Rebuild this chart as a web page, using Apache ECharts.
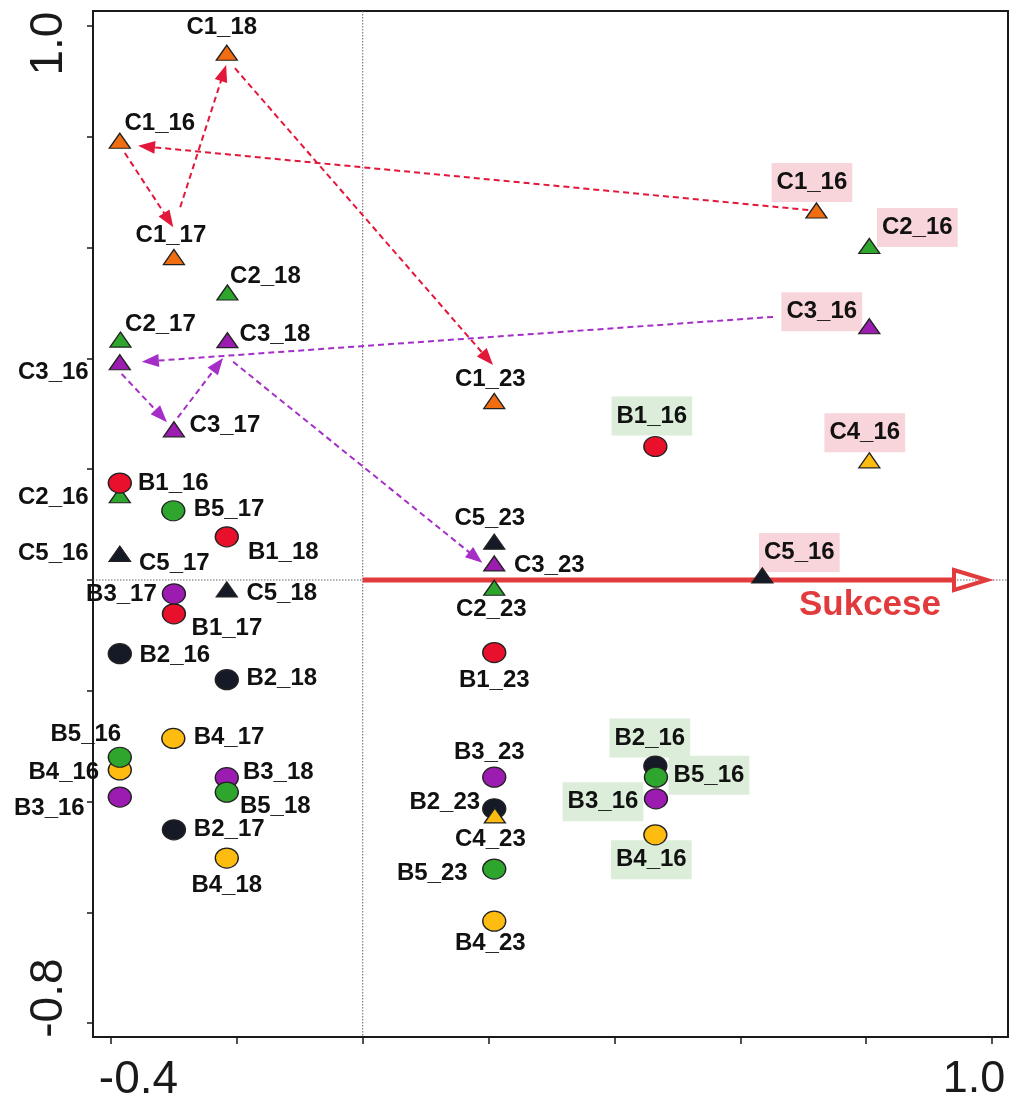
<!DOCTYPE html>
<html><head><meta charset="utf-8">
<script src="https://cdn.jsdelivr.net/npm/echarts@6/dist/echarts.min.js"></script>
<style>html,body{margin:0;padding:0;background:#fff}#c{width:1010px;height:1097px}</style>
</head><body><div id="c"></div>
<script>
// ---------- data ----------
const sampleNames = [
  'C1_18','C1_16','C1_17','C2_18','C2_17','C3_18','C3_16','C3_17','C2_16','B1_16',
  'B5_17','B1_18','C5_16','C5_17','C5_18','B1_17','B3_17','B2_16','B2_18','B4_17',
  'B4_16','B5_16','B3_18','B5_18','B3_16','B2_17','B4_18',
  'C1_23','C5_23','C3_23','C2_23','B1_23','B3_23','B2_23','C4_23','B5_23','B4_23',
  'B1_16','B2_16','B5_16','B3_16','B4_16','C1_16','C2_16','C3_16','C4_16','C5_16'
];
const axis1Scores = [
  -0.216,-0.386,-0.300,-0.215,-0.385,-0.215,-0.386,-0.300,-0.386,-0.386,
  -0.301,-0.216,-0.386,-0.386,-0.216,-0.300,-0.300,-0.386,-0.216,-0.301,
  -0.386,-0.386,-0.216,-0.216,-0.386,-0.300,-0.216,
  0.209,0.209,0.209,0.209,0.209,0.209,0.209,0.210,0.209,0.209,
  0.465,0.465,0.466,0.466,0.465,0.721,0.805,0.805,0.805,0.635
];
const axis2Scores = [
  0.952,0.793,0.583,0.519,0.434,0.433,0.393,0.272,0.153,0.175,
  0.125,0.078,0.047,0.047,-0.017,-0.061,-0.025,-0.133,-0.180,-0.286,
  -0.343,-0.320,-0.357,-0.383,-0.392,-0.451,-0.502,
  0.323,0.069,0.030,-0.014,-0.131,-0.356,-0.413,-0.425,-0.522,-0.616,
  0.241,-0.336,-0.356,-0.395,-0.460,0.667,0.603,0.458,0.216,0.008
];
// trajectory arrows (start -> end)
const c1ArrowStart = [[0.708,0.668],[-0.378,0.771],[-0.290,0.673],[-0.203,0.924]];
const c1ArrowEnd   = [[-0.357,0.784],[-0.301,0.637],[-0.217,0.930],[0.207,0.388]];
const c3ArrowStart = [[0.652,0.475],[-0.383,0.372],[-0.294,0.293],[-0.206,0.394]];
const c3ArrowEnd   = [[-0.351,0.394],[-0.311,0.285],[-0.222,0.401],[0.190,0.031]];
const successionArrow = [[0, 0], [0.992, 0]];
const successionLabel = 'Sukcese';
const xTickValues = [-0.4,-0.2,0,0.2,0.4,0.6,0.8,1.0];
const yTickValues = [-0.8,-0.6,-0.4,-0.2,0,0.2,0.4,0.6,0.8,1.0];
const xLabelValues = [-0.4, 1.0];
const yLabelValues = [-0.8, 1.0];

// ---------- style ----------
const siteColor = {B1:'#E8102A',B2:'#151A26',B3:'#9C1CB2',B4:'#FFBC10',B5:'#2EA62E',
                   C1:'#F06D12',C2:'#2EA62E',C3:'#9C1CB2',C4:'#FFBC10',C5:'#151A26'};
const labelOffset = [
  [-5,-25],[40,-17],[-3,-22],[38,-16.5],[40,-15.5],[47.5,-6],[-66.5,10],[51,-3.5],[-66.5,2.5],[53.5,0],
  [55.7,-1],[56.5,16],[-66.5,-1],[54.5,9],[55,4],[53,14.5],[-52.5,0.5],[55,1.5],[55,-1],[55.7,-1],
  [-56,2.5],[-34,-23],[51.5,-5],[48.5,14.5],[-70.5,11],[55.3,0],[0,27],
  [-4,-21.5],[-4.5,-23.5],[55,1.5],[-3,22],[0,27.5],[-5,-25],[-49.5,-6.5],[-4.5,23.5],[-62,4],[-4,22],
  [-3.5,-30.5],[-5.5,-28],[53,-2],[-53,3],[-4,25],[-4.5,-28],[48,-18.5],[-47.5,-14.5],[-4.5,-27.5],[37,-23]
];
const boxedFrom = 37;
const RED = '#E3173A', PURPLE = '#A52FC6', SUCC = '#E23B3D';
const Y_FONT = 'Liberation Sans Narrow, Liberation Sans, Arial';

const chart = echarts.init(document.getElementById('c'), null, {renderer:'canvas'});

function dashedArrow(color) {
  return function (params, api) {
    const p1 = api.coord([api.value(0), api.value(1)]);
    const p2 = api.coord([api.value(2), api.value(3)]);
    const dx = p2[0]-p1[0], dy = p2[1]-p1[1];
    const len = Math.hypot(dx, dy), ux = dx/len, uy = dy/len, nx = -uy, ny = ux;
    const L = 17, W = 6.5;
    const bx = p2[0]-ux*L, by = p2[1]-uy*L;
    return {type:'group', children:[
      {type:'line', shape:{x1:p1[0],y1:p1[1],x2:bx+ux*2,y2:by+uy*2},
       style:{stroke:color, lineWidth:2, lineDash:[6,4], fill:null}},
      {type:'polygon', shape:{points:[[p2[0],p2[1]],[bx+nx*W,by+ny*W],[bx-nx*W,by-ny*W]]},
       style:{fill:color}}
    ]};
  };
}

function arrowData(s, e) { return s.map((p,i)=>[p[0],p[1],e[i][0],e[i][1]]); }

// marker series (no labels)
const markerData = sampleNames.map((n,i)=>{
  const isB = n[0]==='B';
  return {
    name:n, value:[axis1Scores[i], axis2Scores[i]],
    symbol: isB ? 'circle' : 'triangle',
    symbolSize: isB ? [23,20] : [21,15],
    itemStyle:{color: siteColor[n.slice(0,2)]}
  };
});
// label series (drawn underneath the markers)
const labelData = sampleNames.map((n,i)=>{
  const isB = n[0]==='B';
  const lab = {position:[labelOffset[i][0]+1, labelOffset[i][1]+1], align:'center', verticalAlign:'middle'};
  if (i >= boxedFrom) {
    lab.backgroundColor = isB ? '#DCEEDA' : '#F8D5DB';
    lab.padding = [7,5,8,5];
  }
  return {name:n, value:[axis1Scores[i], axis2Scores[i]], label:lab};
});

const option = {
  animation:false,
  backgroundColor:'#fff',
  grid:{left:93, top:11, right:2, bottom:60, show:true, borderColor:'#1a1a1a', borderWidth:2,
        backgroundColor:'transparent', outerBoundsMode:'none'},
  xAxis:{type:'value', min:-0.4286, max:1.0254,
    axisLine:{show:true, onZero:false, lineStyle:{color:'#1a1a1a', width:2}},
    splitLine:{show:false},
    axisTick:{show:true, customValues:xTickValues, length:7, lineStyle:{color:'#1a1a1a', width:1.5}},
    axisLabel:{show:true, customValues:xLabelValues, margin:20, color:'#1a1a1a',
      fontFamily:'Liberation Sans, Arial', fontSize:45,
      formatter:v=> v<0 ? '{l|'+v.toFixed(1)+'}' : '{r|'+v.toFixed(1)+'}',
      rich:{l:{fontFamily:'Liberation Sans, Arial', fontSize:46, color:'#1a1a1a', padding:[0,0,0,55]},
            r:{fontFamily:'Liberation Sans, Arial', fontSize:45, color:'#1a1a1a', padding:[0,36,0,0]}}}
  },
  yAxis:{type:'value', min:-0.8251, max:1.0273,
    axisLine:{show:true, onZero:false, lineStyle:{color:'#1a1a1a', width:2}},
    splitLine:{show:false},
    axisTick:{show:true, customValues:yTickValues, length:6, lineStyle:{color:'#1a1a1a', width:1.5}},
    axisLabel:{show:true, customValues:yLabelValues, rotate:90, margin:21, color:'#1a1a1a',
      fontFamily:Y_FONT, fontSize:46,
      formatter:v=> v<0 ? '{lo|'+v.toFixed(1)+'}' : '{hi|'+v.toFixed(1)+'}',
      rich:{lo:{fontFamily:Y_FONT, fontSize:46, color:'#1a1a1a', padding:[0,0,0,50]},
            hi:{fontFamily:Y_FONT, fontSize:46, color:'#1a1a1a', padding:[0,35,0,0]}}}
  },
  series:[
    {type:'custom', z:1, silent:true, data:[[0,0]],
     renderItem:(params, api)=>{
       const cs = params.coordSys; const o = api.coord([0,0]);
       return {type:'group', children:[
         {type:'line', shape:{x1:o[0],y1:cs.y,x2:o[0],y2:cs.y+cs.height}, style:{stroke:'#666', lineWidth:1, lineDash:[1.5,1.5]}},
         {type:'line', shape:{x1:cs.x,y1:o[1],x2:cs.x+cs.width,y2:o[1]}, style:{stroke:'#666', lineWidth:1, lineDash:[1.5,1.5]}}
       ]};
     }},
    {type:'custom', z:2, silent:true, data:arrowData(c1ArrowStart,c1ArrowEnd), renderItem:dashedArrow(RED),
     encode:{x:[0,2], y:[1,3]}},
    {type:'custom', z:2, silent:true, data:arrowData(c3ArrowStart,c3ArrowEnd), renderItem:dashedArrow(PURPLE),
     encode:{x:[0,2], y:[1,3]}},
    {type:'custom', z:3, silent:true,
     data:[[successionArrow[0][0],successionArrow[0][1],successionArrow[1][0],successionArrow[1][1]]],
     encode:{x:[0,2], y:[1,3]},
     renderItem:(params, api)=>{
       const p1 = api.coord([api.value(0), api.value(1)]);
       const p2 = api.coord([api.value(2), api.value(3)]);
       const L = 33, W = 10;
       const bx = p2[0]-L;
       return {type:'group', children:[
         {type:'line', shape:{x1:p1[0],y1:p1[1],x2:bx,y2:p2[1]}, style:{stroke:SUCC, lineWidth:5}},
         {type:'polygon', shape:{points:[[p2[0],p2[1]],[bx,p2[1]-W],[bx,p2[1]+W]]},
          style:{fill:null, stroke:SUCC, lineWidth:4, lineJoin:'miter', miterLimit:10}},
         {type:'text', x:p2[0]-117, y:p2[1]+25,
          style:{text:successionLabel, fill:SUCC, font:'bold 35px "Liberation Sans", Arial', align:'center', verticalAlign:'middle'}}
       ]};
     }},
    {type:'scatter', z:4, silent:true, data:labelData,
     symbol:'circle', symbolSize:2,
     itemStyle:{color:'#ffffff', borderWidth:0, opacity:1},
     label:{show:true, formatter:'{b}', color:'#111111', opacity:1,
       fontFamily:'Liberation Sans, Arial', fontWeight:'bold', fontSize:24},
     labelLayout:{hideOverlap:false}
    },
    {type:'scatter', z:5, silent:true, data:markerData,
     itemStyle:{borderColor:'#222', borderWidth:1.3, opacity:1},
     label:{show:false}
    }
  ]
};
chart.setOption(option);
</script></body></html>
